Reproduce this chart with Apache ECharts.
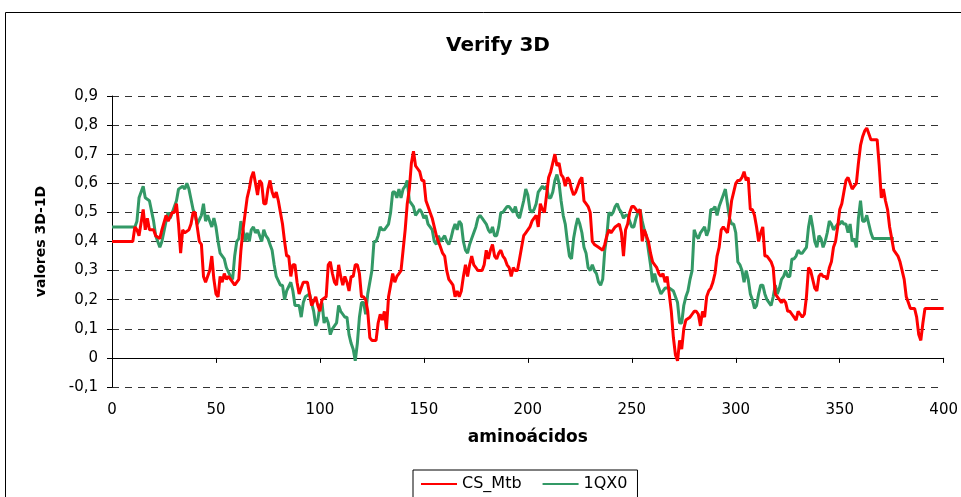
<!DOCTYPE html>
<html>
<head>
<meta charset="utf-8">
<script src="https://cdn.jsdelivr.net/npm/echarts@6/dist/echarts.min.js"></script>
<style>
  html, body { margin: 0; padding: 0; background: #fff; }
  #chart { width: 961px; height: 497px; }
</style>
</head>
<body>
<div id="chart"></div>
<script>
// valores: [aminoácido, valor 3D-1D]
var csMtb = [
  [0,0.40],[10,0.40],[11,0.45],[12,0.44],[13,0.42],[15,0.51],[16,0.44],[17,0.48],[18,0.44],[20,0.44],
  [21,0.42],[23,0.41],[24,0.44],[26,0.49],[27,0.47],[29,0.50],[30,0.50],[31,0.53],[32,0.46],[33,0.36],
  [34,0.44],[35,0.43],[37,0.44],[38,0.46],[39,0.50],[40,0.50],[41,0.45],[42,0.40],[43,0.39],[44,0.28],
  [45,0.26],[47,0.30],[48,0.35],[49,0.27],[50,0.22],[51,0.21],[52,0.28],[53,0.26],[54,0.29],[55,0.27],
  [56,0.28],[58,0.26],[59,0.25],[61,0.27],[62,0.37],[63,0.44],[65,0.55],[66,0.58],[67,0.62],[68,0.64],
  [69,0.60],[70,0.56],[71,0.61],[72,0.60],[73,0.53],[74,0.53],[75,0.58],[76,0.61],[77,0.57],[78,0.55],
  [79,0.57],[80,0.54],[81,0.50],[82,0.46],[83,0.40],[84,0.35],[85,0.35],[86,0.28],[87,0.32],[88,0.32],
  [89,0.26],[90,0.22],[91,0.24],[92,0.26],[94,0.26],[95,0.22],[96,0.18],[98,0.21],[99,0.18],[100,0.16],
  [101,0.20],[103,0.21],[104,0.32],[105,0.33],[106,0.29],[107,0.26],[108,0.25],[109,0.32],[110,0.28],[111,0.25],
  [112,0.28],[113,0.26],[114,0.23],[115,0.28],[116,0.28],[117,0.32],[118,0.32],[119,0.29],[120,0.21],[121,0.21],
  [122,0.20],[123,0.16],[124,0.07],[125,0.06],[127,0.06],[128,0.12],[129,0.15],[130,0.13],[131,0.16],[132,0.10],
  [133,0.21],[134,0.25],[135,0.29],[136,0.26],[137,0.28],[138,0.29],[139,0.30],[140,0.37],[141,0.44],[142,0.53],
  [143,0.58],[144,0.67],[145,0.71],[146,0.66],[147,0.65],[148,0.64],[149,0.61],[150,0.61],[151,0.54],[152,0.52],
  [153,0.50],[154,0.48],[155,0.45],[156,0.42],[157,0.40],[158,0.38],[159,0.36],[160,0.35],[161,0.30],[162,0.27],
  [163,0.26],[164,0.25],[165,0.21],[166,0.23],[167,0.21],[168,0.23],[169,0.28],[170,0.32],[171,0.28],[172,0.32],
  [173,0.35],[174,0.32],[175,0.31],[176,0.30],[178,0.30],[179,0.32],[180,0.37],[181,0.34],[182,0.37],[183,0.39],
  [184,0.35],[185,0.34],[186,0.36],[187,0.37],[188,0.35],[189,0.34],[190,0.32],[191,0.31],[192,0.28],[193,0.31],
  [194,0.30],[195,0.30],[196,0.34],[197,0.38],[198,0.42],[199,0.43],[200,0.44],[201,0.45],[202,0.47],[203,0.48],
  [204,0.49],[205,0.45],[206,0.53],[207,0.51],[208,0.50],[209,0.56],[210,0.62],[211,0.64],[212,0.67],[213,0.70],
  [214,0.66],[215,0.67],[216,0.63],[217,0.62],[218,0.59],[219,0.62],[220,0.61],[221,0.58],[222,0.56],[223,0.57],
  [224,0.59],[225,0.61],[226,0.62],[227,0.54],[228,0.53],[229,0.52],[230,0.50],[231,0.40],[232,0.39],[234,0.38],
  [236,0.37],[237,0.39],[238,0.42],[239,0.44],[240,0.43],[241,0.44],[242,0.45],[244,0.46],[245,0.43],[246,0.35],
  [247,0.44],[248,0.46],[249,0.50],[250,0.52],[251,0.52],[252,0.51],[253,0.50],[254,0.51],[255,0.40],[256,0.44],
  [257,0.42],[258,0.40],[259,0.36],[260,0.33],[261,0.32],[262,0.31],[263,0.29],[264,0.28],[265,0.29],[266,0.26],
  [267,0.28],[268,0.22],[269,0.16],[270,0.07],[271,0.01],[272,-0.01],[273,0.06],[274,0.03],[275,0.10],[276,0.13],
  [278,0.14],[279,0.15],[280,0.16],[281,0.16],[282,0.15],[283,0.11],[284,0.16],[285,0.14],[286,0.21],[287,0.23],
  [288,0.24],[289,0.26],[290,0.29],[291,0.35],[292,0.38],[293,0.44],[294,0.45],[295,0.44],[296,0.43],[297,0.48],
  [298,0.54],[299,0.57],[300,0.60],[301,0.61],[302,0.61],[303,0.62],[304,0.64],[305,0.61],[306,0.62],[307,0.51],
  [308,0.51],[309,0.49],[310,0.45],[311,0.40],[312,0.43],[313,0.45],[314,0.35],[315,0.35],[316,0.34],[317,0.33],
  [318,0.31],[319,0.22],[320,0.21],[321,0.20],[322,0.19],[323,0.20],[324,0.19],[325,0.16],[326,0.16],[327,0.15],
  [328,0.14],[329,0.13],[330,0.16],[331,0.15],[332,0.14],[333,0.15],[334,0.21],[335,0.31],[336,0.30],[337,0.27],
  [338,0.24],[339,0.23],[340,0.28],[341,0.29],[342,0.28],[343,0.28],[344,0.27],[345,0.31],[346,0.33],[347,0.38],
  [348,0.40],[349,0.45],[350,0.51],[351,0.53],[352,0.57],[353,0.61],[354,0.62],[355,0.60],[356,0.58],[357,0.59],
  [358,0.60],[359,0.67],[360,0.73],[361,0.76],[362,0.78],[363,0.79],[364,0.77],[365,0.75],[368,0.75],[369,0.66],
  [370,0.55],[371,0.58],[372,0.54],[373,0.51],[374,0.45],[375,0.41],[376,0.37],[377,0.36],[378,0.35],[379,0.33],
  [380,0.30],[381,0.27],[382,0.21],[383,0.19],[384,0.17],[386,0.17],[387,0.14],[388,0.08],[389,0.06],[390,0.12],
  [391,0.17],[400,0.17]
];

var qx0 = [
  [0,0.45],[11,0.45],[12,0.47],[13,0.55],[15,0.59],[16,0.55],[18,0.54],[20,0.47],[21,0.42],[23,0.38],
  [24,0.40],[26,0.47],[27,0.50],[28,0.48],[29,0.50],[31,0.54],[32,0.58],[34,0.59],[35,0.58],[36,0.60],
  [37,0.58],[39,0.51],[40,0.49],[41,0.46],[43,0.49],[44,0.53],[45,0.47],[46,0.49],[47,0.47],[48,0.45],
  [49,0.48],[50,0.45],[51,0.40],[52,0.36],[54,0.34],[55,0.31],[57,0.28],[58,0.27],[59,0.35],[60,0.40],
  [61,0.41],[62,0.47],[63,0.44],[64,0.40],[65,0.43],[66,0.40],[67,0.44],[68,0.45],[69,0.43],[70,0.44],
  [72,0.40],[73,0.44],[74,0.42],[75,0.41],[76,0.39],[77,0.37],[78,0.32],[79,0.28],[81,0.25],[82,0.25],
  [83,0.20],[84,0.23],[86,0.26],[87,0.23],[88,0.18],[90,0.18],[91,0.14],[92,0.19],[93,0.21],[95,0.22],
  [96,0.19],[97,0.16],[98,0.11],[99,0.13],[100,0.18],[101,0.19],[102,0.12],[103,0.14],[104,0.12],[105,0.08],
  [106,0.10],[108,0.12],[109,0.18],[110,0.16],[111,0.15],[112,0.14],[113,0.14],[114,0.08],[115,0.05],[116,0.03],
  [117,-0.01],[118,0.05],[119,0.14],[120,0.19],[121,0.19],[122,0.15],[123,0.22],[124,0.26],[125,0.30],[126,0.40],
  [127,0.40],[128,0.42],[129,0.45],[130,0.44],[131,0.44],[133,0.46],[134,0.50],[135,0.57],[136,0.57],[137,0.55],
  [138,0.58],[139,0.55],[140,0.58],[141,0.59],[142,0.61],[143,0.54],[144,0.53],[145,0.52],[146,0.49],[148,0.51],
  [149,0.50],[150,0.48],[151,0.49],[152,0.46],[153,0.45],[154,0.44],[155,0.40],[156,0.39],[157,0.42],[158,0.40],
  [159,0.41],[160,0.42],[161,0.40],[162,0.39],[163,0.41],[164,0.44],[165,0.46],[166,0.44],[167,0.47],[168,0.46],
  [169,0.40],[170,0.37],[171,0.36],[172,0.39],[173,0.41],[174,0.43],[175,0.45],[176,0.48],[177,0.49],[178,0.48],
  [179,0.47],[180,0.46],[181,0.44],[182,0.43],[183,0.45],[184,0.42],[185,0.42],[186,0.45],[187,0.50],[188,0.50],
  [189,0.51],[190,0.52],[191,0.52],[192,0.51],[193,0.50],[194,0.52],[195,0.49],[196,0.48],[197,0.51],[198,0.54],
  [199,0.58],[200,0.56],[201,0.51],[202,0.50],[203,0.51],[204,0.53],[205,0.57],[207,0.59],[208,0.58],[209,0.59],
  [210,0.55],[211,0.55],[212,0.57],[213,0.61],[214,0.63],[215,0.60],[216,0.54],[217,0.49],[218,0.46],[219,0.40],
  [220,0.35],[221,0.34],[222,0.41],[223,0.45],[224,0.48],[225,0.46],[226,0.43],[227,0.38],[228,0.36],[229,0.31],
  [230,0.30],[231,0.32],[232,0.30],[233,0.29],[234,0.26],[235,0.25],[236,0.27],[237,0.37],[238,0.42],[239,0.50],
  [240,0.49],[241,0.50],[242,0.52],[243,0.53],[244,0.51],[245,0.50],[246,0.48],[247,0.49],[248,0.49],[249,0.47],
  [250,0.45],[251,0.45],[252,0.48],[253,0.50],[254,0.51],[255,0.47],[256,0.44],[257,0.42],[258,0.37],[259,0.32],
  [260,0.26],[261,0.29],[262,0.26],[263,0.24],[264,0.22],[266,0.24],[268,0.24],[270,0.23],[271,0.21],[272,0.19],
  [273,0.12],[274,0.12],[275,0.18],[276,0.21],[277,0.23],[278,0.27],[279,0.30],[280,0.44],[281,0.42],[282,0.41],
  [283,0.43],[284,0.44],[285,0.45],[286,0.42],[287,0.44],[288,0.51],[289,0.51],[290,0.52],[291,0.49],[292,0.52],
  [293,0.54],[294,0.56],[295,0.58],[296,0.53],[297,0.48],[298,0.46],[299,0.46],[300,0.43],[301,0.33],[302,0.32],
  [303,0.30],[304,0.26],[305,0.30],[306,0.27],[307,0.22],[308,0.20],[309,0.17],[310,0.18],[311,0.22],[312,0.25],
  [313,0.25],[314,0.22],[315,0.20],[316,0.19],[317,0.18],[318,0.21],[319,0.25],[320,0.22],[321,0.24],[322,0.27],
  [323,0.28],[324,0.30],[325,0.28],[326,0.28],[327,0.34],[328,0.34],[329,0.35],[330,0.37],[331,0.36],[332,0.36],
  [333,0.37],[334,0.38],[335,0.45],[336,0.49],[337,0.45],[338,0.40],[339,0.38],[340,0.42],[341,0.41],[342,0.38],
  [343,0.40],[344,0.43],[345,0.47],[346,0.46],[347,0.44],[348,0.45],[349,0.46],[350,0.46],[351,0.47],[352,0.46],
  [353,0.46],[354,0.43],[355,0.46],[356,0.40],[357,0.41],[358,0.38],[359,0.48],[360,0.54],[361,0.47],[362,0.47],
  [363,0.49],[364,0.46],[365,0.43],[366,0.41],[376,0.41]
];

var seriesNames = ['CS_Mtb', '1QX0'];
var seriesColors = ['#ff0000', '#339966'];

// texto ancho, como en la imagen original
var font = '"DejaVu Sans", Verdana, sans-serif';

var chart = echarts.init(document.getElementById('chart'));
chart.setOption({
  animation: false,
  backgroundColor: '#fff',
  textStyle: { fontFamily: font, color: '#000' },
  title: {
    text: 'Verify 3D',
    left: 493,
    textAlign: 'center',
    top: 31,
    textStyle: { fontFamily: font, fontSize: 20, fontWeight: 'bold', color: '#000' }
  },
  graphic: [{
    type: 'rect',
    shape: { x: 5.5, y: 12.5, width: 1000, height: 600 },
    style: { fill: 'none', stroke: '#000', lineWidth: 1 },
    silent: true,
    z: -1
  }],
  legend: {
    data: seriesNames,
    left: 413,
    top: 470,
    icon: 'rect',
    itemWidth: 36,
    itemHeight: 2,
    itemGap: 21,
    padding: [6, 10, 14, 8],
    borderColor: '#000',
    borderWidth: 1,
    textStyle: { fontFamily: font, fontSize: 16, color: '#000' }
  },
  grid: { left: 112, right: 17, top: 96, bottom: 110, containLabel: false },
  xAxis: {
    type: 'value',
    min: 0,
    max: 400,
    interval: 50,
    name: 'aminoácidos',
    nameLocation: 'middle',
    nameGap: 42,
    nameTextStyle: { fontFamily: font, fontSize: 17, fontWeight: 'bold', color: '#000' },
    axisLine: { show: true, lineStyle: { color: '#000', width: 1 } },
    axisTick: { show: true, inside: false, length: 5, lineStyle: { color: '#000' } },
    axisLabel: { fontFamily: font, fontSize: 15, color: '#000', margin: 16 },
    splitLine: { show: false }
  },
  yAxis: {
    type: 'value',
    min: -0.1,
    max: 0.9,
    interval: 0.1,
    name: 'valores 3D-1D',
    nameLocation: 'middle',
    nameGap: 64,
    nameTextStyle: { fontFamily: font, fontSize: 14, fontWeight: 'bold', color: '#000' },
    axisLine: { show: true, lineStyle: { color: '#000', width: 1 } },
    axisTick: { show: true, inside: false, length: 5, lineStyle: { color: '#000' } },
    axisLabel: {
      fontFamily: font, fontSize: 15, color: '#000', margin: 14,
      formatter: function (v) {
        var r = Math.round(v * 10) / 10;
        return r === 0 ? '0' : r.toFixed(1).replace('.', ',');
      }
    },
    splitLine: { show: true, lineStyle: { color: '#333', width: 1, type: [7, 6] } }
  },
  series: [
    {
      name: seriesNames[0],
      type: 'line',
      data: csMtb,
      showSymbol: false,
      color: seriesColors[0],
      lineStyle: { width: 3, color: seriesColors[0] },
      z: 3
    },
    {
      name: seriesNames[1],
      type: 'line',
      data: qx0,
      showSymbol: false,
      color: seriesColors[1],
      lineStyle: { width: 3, color: seriesColors[1] },
      z: 2
    }
  ]
});
</script>
</body>
</html>
